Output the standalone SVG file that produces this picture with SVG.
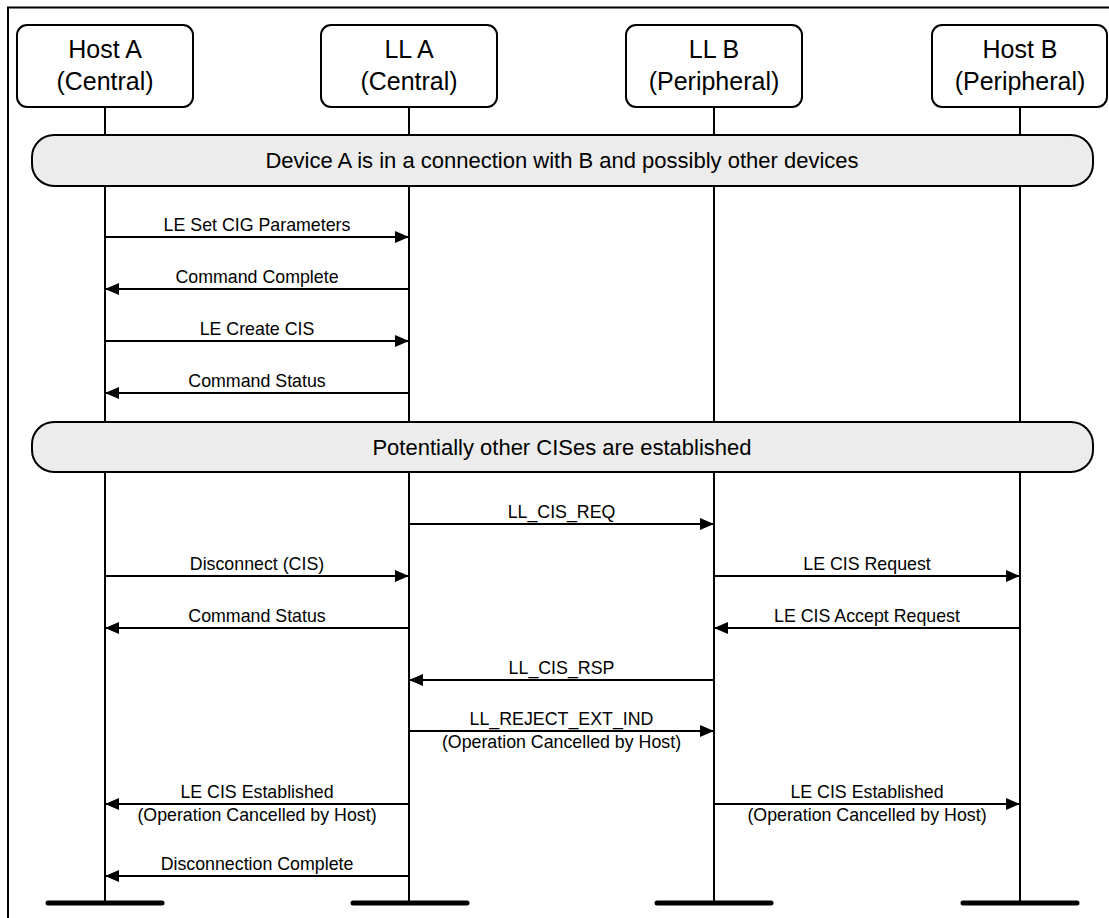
<svg xmlns="http://www.w3.org/2000/svg" width="1109" height="918" viewBox="0 0 1109 918">
<defs>
<style>
.frame{stroke:#000;stroke-width:2;fill:none}
.box{fill:#fff;stroke:#000;stroke-width:2}
.band{fill:#ececec;stroke:#000;stroke-width:2}
.life{stroke:#000;stroke-width:2}
.bar{stroke:#000;stroke-width:5;stroke-linecap:round}
.msg{stroke:#000;stroke-width:2;fill:none}
.hd{font-family:"Liberation Sans",Arial,sans-serif;font-size:25px;text-anchor:middle;fill:#000}
.bt{font-family:"Liberation Sans",Arial,sans-serif;font-size:22px;text-anchor:middle;fill:#000}
.lb{font-family:"Liberation Sans",Arial,sans-serif;font-size:17.8px;text-anchor:middle;fill:#000}
</style>
<marker id="ah" viewBox="0 0 14 12" refX="14" refY="6" markerWidth="14" markerHeight="12" markerUnits="userSpaceOnUse" orient="auto">
<path d="M0,0 L14,6 L0,12 Z" fill="#000"/>
</marker>
</defs>
<rect width="1109" height="918" fill="#fff"/>
<path class="frame" d="M8,918 V7.5 H1109"/>

<g id="lifelines">
<line class="life" x1="105" y1="107" x2="105" y2="903"/>
<line class="life" x1="409" y1="107" x2="409" y2="903"/>
<line class="life" x1="714" y1="107" x2="714" y2="903"/>
<line class="life" x1="1020" y1="107" x2="1020" y2="903"/>
<line class="bar" x1="48" y1="903" x2="162" y2="903"/>
<line class="bar" x1="353" y1="903" x2="467" y2="903"/>
<line class="bar" x1="657" y1="903" x2="771" y2="903"/>
<line class="bar" x1="963" y1="903" x2="1077" y2="903"/>
</g>

<g id="hostA">
<rect class="box" x="17" y="25" width="176" height="82" rx="10"/>
<text class="hd" x="105" y="58">Host A</text>
<text class="hd" x="105" y="90">(Central)</text>
</g>
<g id="llA">
<rect class="box" x="321" y="25" width="176" height="82" rx="10"/>
<text class="hd" x="409" y="58">LL A</text>
<text class="hd" x="409" y="90">(Central)</text>
</g>
<g id="llB">
<rect class="box" x="626" y="25" width="176" height="82" rx="10"/>
<text class="hd" x="714" y="58">LL B</text>
<text class="hd" x="714" y="90">(Peripheral)</text>
</g>
<g id="hostB">
<rect class="box" x="932" y="25" width="175" height="82" rx="10"/>
<text class="hd" x="1020" y="58">Host B</text>
<text class="hd" x="1020" y="90">(Peripheral)</text>
</g>

<g id="band1">
<rect class="band" x="32" y="135" width="1061" height="51" rx="22"/>
<text class="bt" x="562" y="168">Device A is in a connection with B and possibly other devices</text>
</g>
<g id="band2">
<rect class="band" x="32" y="422" width="1061" height="50" rx="22"/>
<text class="bt" x="562" y="455">Potentially other CISes are established</text>
</g>

<g id="connectors">
<line class="msg" x1="105" y1="237" x2="409" y2="237" marker-end="url(#ah)"/>
<text class="lb" x="257" y="231">LE Set CIG Parameters</text>
<line class="msg" x1="409" y1="289" x2="105" y2="289" marker-end="url(#ah)"/>
<text class="lb" x="257" y="283">Command Complete</text>
<line class="msg" x1="105" y1="341" x2="409" y2="341" marker-end="url(#ah)"/>
<text class="lb" x="257" y="335">LE Create CIS</text>
<line class="msg" x1="409" y1="393" x2="105" y2="393" marker-end="url(#ah)"/>
<text class="lb" x="257" y="387">Command Status</text>

<line class="msg" x1="409" y1="524" x2="714" y2="524" marker-end="url(#ah)"/>
<text class="lb" x="561.5" y="518">LL_CIS_REQ</text>
<line class="msg" x1="105" y1="576" x2="409" y2="576" marker-end="url(#ah)"/>
<text class="lb" x="257" y="570">Disconnect (CIS)</text>
<line class="msg" x1="714" y1="576" x2="1020" y2="576" marker-end="url(#ah)"/>
<text class="lb" x="867" y="570">LE CIS Request</text>
<line class="msg" x1="409" y1="628" x2="105" y2="628" marker-end="url(#ah)"/>
<text class="lb" x="257" y="622">Command Status</text>
<line class="msg" x1="1020" y1="628" x2="714" y2="628" marker-end="url(#ah)"/>
<text class="lb" x="867" y="622">LE CIS Accept Request</text>
<line class="msg" x1="714" y1="680" x2="409" y2="680" marker-end="url(#ah)"/>
<text class="lb" x="561.5" y="674">LL_CIS_RSP</text>
<line class="msg" x1="409" y1="731" x2="714" y2="731" marker-end="url(#ah)"/>
<text class="lb" x="561.5" y="725">LL_REJECT_EXT_IND</text>
<text class="lb" x="561.5" y="748">(Operation Cancelled by Host)</text>
<line class="msg" x1="409" y1="804" x2="105" y2="804" marker-end="url(#ah)"/>
<text class="lb" x="257" y="798">LE CIS Established</text>
<text class="lb" x="257" y="821">(Operation Cancelled by Host)</text>
<line class="msg" x1="714" y1="804" x2="1020" y2="804" marker-end="url(#ah)"/>
<text class="lb" x="867" y="798">LE CIS Established</text>
<text class="lb" x="867" y="821">(Operation Cancelled by Host)</text>
<line class="msg" x1="409" y1="876" x2="105" y2="876" marker-end="url(#ah)"/>
<text class="lb" x="257" y="870">Disconnection Complete</text>
</g>
</svg>
